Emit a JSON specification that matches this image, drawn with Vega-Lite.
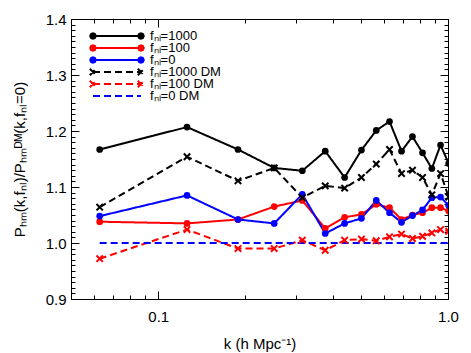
{
"$schema": "https://vega.github.io/schema/vega-lite/v6.json",
"width": 377, "height": 280,
"autosize": {"type": "none"},
"padding": {"left": 71, "top": 19, "right": 23, "bottom": 54},
"background": "white",
"config": {
  "view": {"stroke": "black", "strokeWidth": 1},
  "font": "Liberation Sans",
  "axis": {"domainColor": "black", "tickColor": "black", "labelColor": "black", "titleColor": "black", "grid": false, "labelFont": "Liberation Sans", "titleFont": "Liberation Sans", "labelFontSize": 15, "titleFontSize": 15, "titleFontWeight": "normal", "tickWidth": 1, "domainWidth": 1}
},
"datasets": {
  "d": [
    {"k":0.0628,"v":1.167,"s":"f1000"},{"k":0.1257,"v":1.207,"s":"f1000"},{"k":0.1885,"v":1.167,"s":"f1000"},{"k":0.2513,"v":1.134,"s":"f1000"},{"k":0.3142,"v":1.129,"s":"f1000"},{"k":0.3770,"v":1.164,"s":"f1000"},{"k":0.4398,"v":1.117,"s":"f1000"},{"k":0.5027,"v":1.166,"s":"f1000"},{"k":0.5655,"v":1.201,"s":"f1000"},{"k":0.6283,"v":1.217,"s":"f1000"},{"k":0.6912,"v":1.164,"s":"f1000"},{"k":0.7540,"v":1.190,"s":"f1000"},{"k":0.8168,"v":1.161,"s":"f1000"},{"k":0.8796,"v":1.133,"s":"f1000"},{"k":0.9425,"v":1.175,"s":"f1000"},{"k":1.0053,"v":1.142,"s":"f1000"},
    {"k":0.0628,"v":1.038,"s":"f100"},{"k":0.1257,"v":1.035,"s":"f100"},{"k":0.1885,"v":1.042,"s":"f100"},{"k":0.2513,"v":1.065,"s":"f100"},{"k":0.3142,"v":1.076,"s":"f100"},{"k":0.3770,"v":1.026,"s":"f100"},{"k":0.4398,"v":1.046,"s":"f100"},{"k":0.5027,"v":1.051,"s":"f100"},{"k":0.5655,"v":1.069,"s":"f100"},{"k":0.6283,"v":1.063,"s":"f100"},{"k":0.6912,"v":1.042,"s":"f100"},{"k":0.7540,"v":1.050,"s":"f100"},{"k":0.8168,"v":1.054,"s":"f100"},{"k":0.8796,"v":1.063,"s":"f100"},{"k":0.9425,"v":1.063,"s":"f100"},{"k":1.0053,"v":1.057,"s":"f100"},
    {"k":0.0628,"v":1.048,"s":"f0"},{"k":0.1257,"v":1.085,"s":"f0"},{"k":0.1885,"v":1.042,"s":"f0"},{"k":0.2513,"v":1.035,"s":"f0"},{"k":0.3142,"v":1.087,"s":"f0"},{"k":0.3770,"v":1.017,"s":"f0"},{"k":0.4398,"v":1.035,"s":"f0"},{"k":0.5027,"v":1.044,"s":"f0"},{"k":0.5655,"v":1.076,"s":"f0"},{"k":0.6283,"v":1.054,"s":"f0"},{"k":0.6912,"v":1.037,"s":"f0"},{"k":0.7540,"v":1.049,"s":"f0"},{"k":0.8168,"v":1.059,"s":"f0"},{"k":0.8796,"v":1.081,"s":"f0"},{"k":0.9425,"v":1.082,"s":"f0"},{"k":1.0053,"v":1.067,"s":"f0"},
    {"k":0.0628,"v":1.064,"s":"d1000"},{"k":0.1257,"v":1.154,"s":"d1000"},{"k":0.1885,"v":1.111,"s":"d1000"},{"k":0.2513,"v":1.134,"s":"d1000"},{"k":0.3142,"v":1.081,"s":"d1000"},{"k":0.3770,"v":1.102,"s":"d1000"},{"k":0.4398,"v":1.098,"s":"d1000"},{"k":0.5027,"v":1.117,"s":"d1000"},{"k":0.5655,"v":1.141,"s":"d1000"},{"k":0.6283,"v":1.167,"s":"d1000"},{"k":0.6912,"v":1.124,"s":"d1000"},{"k":0.7540,"v":1.130,"s":"d1000"},{"k":0.8168,"v":1.117,"s":"d1000"},{"k":0.8796,"v":1.086,"s":"d1000"},{"k":0.9425,"v":1.124,"s":"d1000"},{"k":1.0053,"v":1.082,"s":"d1000"},
    {"k":0.0628,"v":0.972,"s":"d100"},{"k":0.1257,"v":1.024,"s":"d100"},{"k":0.1885,"v":0.990,"s":"d100"},{"k":0.2513,"v":0.990,"s":"d100"},{"k":0.3142,"v":1.005,"s":"d100"},{"k":0.3770,"v":0.987,"s":"d100"},{"k":0.4398,"v":1.005,"s":"d100"},{"k":0.5027,"v":1.007,"s":"d100"},{"k":0.5655,"v":1.004,"s":"d100"},{"k":0.6283,"v":1.011,"s":"d100"},{"k":0.6912,"v":1.016,"s":"d100"},{"k":0.7540,"v":1.008,"s":"d100"},{"k":0.8168,"v":1.012,"s":"d100"},{"k":0.8796,"v":1.018,"s":"d100"},{"k":0.9425,"v":1.024,"s":"d100"},{"k":1.0053,"v":1.021,"s":"d100"},
    {"k":0.0628,"v":1.0,"s":"d0"},{"k":0.1257,"v":1.0,"s":"d0"},{"k":0.1885,"v":1.0,"s":"d0"},{"k":0.2513,"v":1.0,"s":"d0"},{"k":0.3142,"v":1.0,"s":"d0"},{"k":0.3770,"v":1.0,"s":"d0"},{"k":0.4398,"v":1.0,"s":"d0"},{"k":0.5027,"v":1.0,"s":"d0"},{"k":0.5655,"v":1.0,"s":"d0"},{"k":0.6283,"v":1.0,"s":"d0"},{"k":0.6912,"v":1.0,"s":"d0"},{"k":0.7540,"v":1.0,"s":"d0"},{"k":0.8168,"v":1.0,"s":"d0"},{"k":0.8796,"v":1.0,"s":"d0"},{"k":0.9425,"v":1.0,"s":"d0"},{"k":1.0053,"v":1.0,"s":"d0"}
  ]
},
"data": {"name": "d"},
"resolve": {"axis": {"x": "independent", "y": "independent"}},
"layer": [
  {
    "mark": {"type": "line", "strokeWidth": 2, "clip": true},
    "encoding": {
      "x": {"field": "k", "type": "quantitative", "scale": {"type": "log", "domain": [0.05, 1.0], "nice": false},
        "axis": {"orient": "bottom", "values": [0.06,0.07,0.08,0.09,0.1,0.2,0.3,0.4,0.5,0.6,0.7,0.8,0.9,1],
          "labelExpr": "datum.value == 0.1 ? '0.1' : (datum.value == 1 ? '1.0' : '')",
          "tickSize": {"condition": {"test": "datum.value == 0.1 || datum.value == 1", "value": -8}, "value": -4},
          "labelPadding": 18, "labelFlush": false, "labelOverlap": false,
          "title": "k (h Mpc⁻¹)", "titlePadding": 8}},
      "y": {"field": "v", "type": "quantitative", "scale": {"domain": [0.9, 1.4], "nice": false, "zero": false},
        "axis": {"orient": "left", "values": [0.9,0.91,0.92,0.93,0.94,0.95,0.96,0.97,0.98,0.99,1.0,1.01,1.02,1.03,1.04,1.05,1.06,1.07,1.08,1.09,1.1,1.11,1.12,1.13,1.14,1.15,1.16,1.17,1.18,1.19,1.2,1.21,1.22,1.23,1.24,1.25,1.26,1.27,1.28,1.29,1.3,1.31,1.32,1.33,1.34,1.35,1.36,1.37,1.38,1.39,1.4],
          "labelExpr": "abs(datum.value*10 - round(datum.value*10)) < 0.001 ? format(datum.value, '.1f') : ''",
          "tickSize": {"condition": {"test": "abs(datum.value*10 - round(datum.value*10)) < 0.001", "value": -8}, "value": -4},
          "labelPadding": 13, "labelFlush": false, "labelOverlap": false,
          "title": "Pₕₘ(k,fₙₗ)/Pₕₘᴰᴹ(k,fₙₗ=0)", "titlePadding": 18}},
      "color": {"field": "s", "type": "nominal",
        "scale": {"domain": ["f1000","f100","f0","d1000","d100","d0"], "range": ["#000000","#ff0000","#0000ff","#000000","#ff0000","#0000ff"]},
        "legend": {"orient": "none", "legendX": 17, "legendY": 12, "title": null, "padding": 0,
          "symbolSize": 2304, "symbolStrokeWidth": 2, "symbolOffset": 4, "clipHeight": 10, "rowPadding": -1.3, "labelOffset": 8,
          "labelFont": "Liberation Sans", "labelFontSize": 13, "labelColor": "black", "labelLimit": 300,
          "labelExpr": "datum.value == 'f1000' ? 'fₙₗ=1000' : datum.value == 'f100' ? 'fₙₗ=100' : datum.value == 'f0' ? 'fₙₗ=0' : datum.value == 'd1000' ? 'fₙₗ=1000 DM' : datum.value == 'd100' ? 'fₙₗ=100 DM' : 'fₙₗ=0 DM'",
          "encode": {"symbols": {"update": {
            "shape": {"signal": "datum.value == 'd0' ? 'M-1,0L1,0' : ((datum.value == 'd1000' || datum.value == 'd100') ? 'M-1,0L1,0M-1.133,-0.133L-0.867,0.133M-1.133,0.133L-0.867,-0.133M0.867,-0.133L1.133,0.133M0.867,0.133L1.133,-0.133' : 'M-1,0L1,0ZM-0.885,0L-0.919,0.081L-1,0.115L-1.081,0.081L-1.115,0L-1.081,-0.081L-1,-0.115L-0.919,-0.081ZM1.115,0L1.081,0.081L1,0.115L0.919,0.081L0.885,0L0.919,-0.081L1,-0.115L1.081,-0.081Z')"},
            "strokeDash": {"signal": "(datum.value == 'd1000' || datum.value == 'd100' || datum.value == 'd0') ? [7,4] : [1,0]"},
            "fill": {"signal": "scale('color', datum.value)"},
            "stroke": {"signal": "scale('color', datum.value)"},
            "strokeWidth": {"value": 2},
            "opacity": {"value": 1}
          }}}}},
      "strokeDash": {"field": "s", "type": "nominal",
        "scale": {"domain": ["f1000","f100","f0","d1000","d100","d0"], "range": [[1,0],[1,0],[1,0],[7,4],[7,4],[7,4]]},
        "legend": null}
    }
  },
  {
    "transform": [{"filter": "datum.s == 'f1000' || datum.s == 'f100' || datum.s == 'f0'"}],
    "mark": {"type": "circle", "size": 45, "opacity": 1, "clip": true},
    "encoding": {
      "x": {"field": "k", "type": "quantitative", "scale": {"type": "log", "domain": [0.05, 1.0], "nice": false},
        "axis": {"orient": "top", "values": [0.06,0.07,0.08,0.09,0.1,0.2,0.3,0.4,0.5,0.6,0.7,0.8,0.9,1], "labels": false, "title": null,
          "tickSize": {"condition": {"test": "datum.value == 0.1 || datum.value == 1", "value": -8}, "value": -4}}},
      "y": {"field": "v", "type": "quantitative", "scale": {"domain": [0.9, 1.4], "nice": false, "zero": false},
        "axis": {"orient": "right", "values": [0.9,0.91,0.92,0.93,0.94,0.95,0.96,0.97,0.98,0.99,1.0,1.01,1.02,1.03,1.04,1.05,1.06,1.07,1.08,1.09,1.1,1.11,1.12,1.13,1.14,1.15,1.16,1.17,1.18,1.19,1.2,1.21,1.22,1.23,1.24,1.25,1.26,1.27,1.28,1.29,1.3,1.31,1.32,1.33,1.34,1.35,1.36,1.37,1.38,1.39,1.4], "labels": false, "title": null,
          "tickSize": {"condition": {"test": "abs(datum.value*10 - round(datum.value*10)) < 0.001", "value": -8}, "value": -4}}},
      "color": {"field": "s", "type": "nominal",
        "scale": {"domain": ["f1000","f100","f0","d1000","d100","d0"], "range": ["#000000","#ff0000","#0000ff","#000000","#ff0000","#0000ff"]},
        "legend": null}
    }
  },
  {
    "transform": [{"filter": "datum.s == 'd1000' || datum.s == 'd100'"}],
    "mark": {"type": "point", "shape": "M-1,-1L1,1M-1,1L1,-1", "size": 41, "strokeWidth": 2, "filled": false, "opacity": 1, "clip": true},
    "encoding": {
      "x": {"field": "k", "type": "quantitative", "scale": {"type": "log", "domain": [0.05, 1.0], "nice": false}, "axis": null},
      "y": {"field": "v", "type": "quantitative", "scale": {"domain": [0.9, 1.4], "nice": false, "zero": false}, "axis": null},
      "color": {"field": "s", "type": "nominal",
        "scale": {"domain": ["f1000","f100","f0","d1000","d100","d0"], "range": ["#000000","#ff0000","#0000ff","#000000","#ff0000","#0000ff"]},
        "legend": null}
    }
  }
]
}
